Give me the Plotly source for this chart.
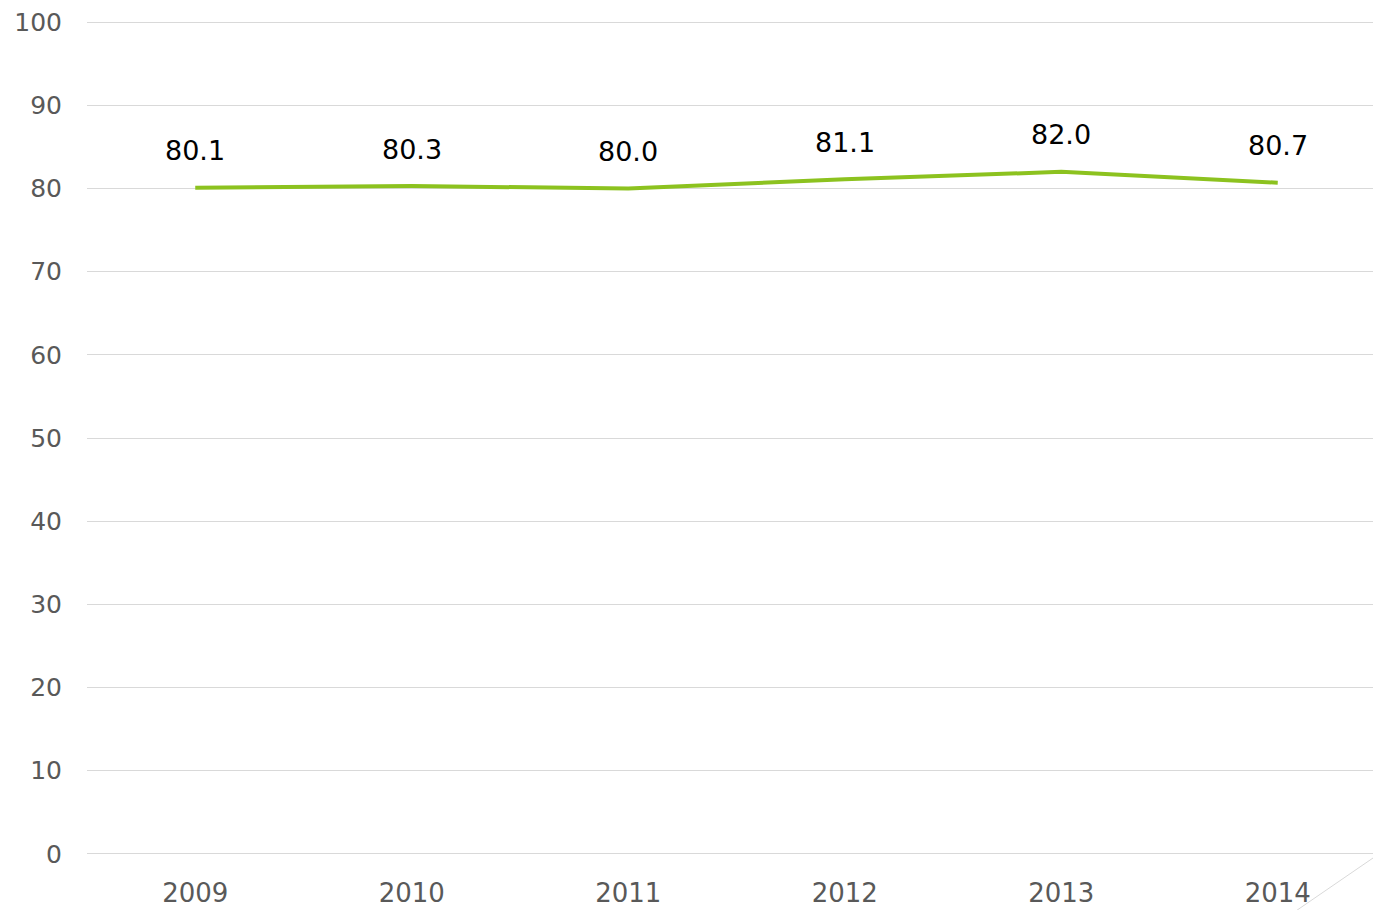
import plotly.graph_objects as go

years = ['2009', '2010', '2011', '2012', '2013', '2014']
values = [80.1, 80.3, 80.0, 81.1, 82.0, 80.7]
y_ticks = [0, 10, 20, 30, 40, 50, 60, 70, 80, 90, 100]

LINE_COLOR = '#8cc21f'
GRID_COLOR = '#d9d9d9'
FONT = 'DejaVu Sans'

fig = go.Figure()

fig.add_trace(go.Scatter(
    x=years,
    y=values,
    mode='lines',
    line=dict(color=LINE_COLOR, width=4),
    hoverinfo='skip',
    showlegend=False
))

# value labels above each point (x given as category index)
for i, v in enumerate(values):
    fig.add_annotation(
        x=i, y=v, text=f'{v:.1f}',
        showarrow=False, yshift=37,
        font=dict(family=FONT, size=27, color='#000000')
    )

# small stray diagonal stroke at the bottom right of the original
fig.add_shape(
    type='line', xref='paper', yref='paper',
    x0=0.941, y0=-0.062, x1=1.0, y1=0.0,
    line=dict(color=GRID_COLOR, width=1)
)

fig.update_layout(
    width=1373,
    height=910,
    margin=dict(l=87, r=0, t=18, b=52),
    paper_bgcolor='white',
    plot_bgcolor='white',
    font=dict(family=FONT, size=25, color='#595959'),
    xaxis=dict(
        type='category',
        range=[-0.5, 5.44],
        showgrid=False,
        showline=False,
        zeroline=False,
        ticks='',
        automargin=False,
        ticklabelstandoff=17,
        ticklabeloverflow='allow',
        tickfont=dict(family=FONT, size=26, color='#595959')
    ),
    yaxis=dict(
        range=[-0.5, 100.5],
        tickvals=y_ticks,
        showgrid=True,
        gridcolor=GRID_COLOR,
        gridwidth=1,
        zeroline=False,
        showline=False,
        ticks='',
        automargin=False,
        ticklabelstandoff=24,
        ticklabeloverflow='allow',
        tickfont=dict(family=FONT, size=25, color='#595959')
    )
)

# drop the default 8px body margin so the figure fills the window
fig.write_html('out.html', config={'displayModeBar': False},
               post_script="document.body.style.margin = '0';")
